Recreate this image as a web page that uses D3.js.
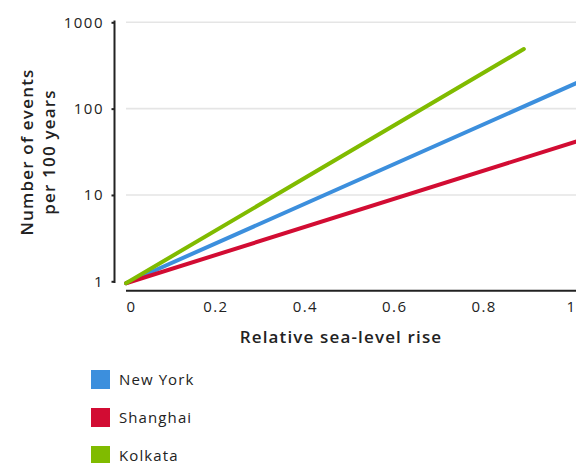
<!DOCTYPE html>
<html>
<head>
<meta charset="utf-8">
<script src="https://cdn.jsdelivr.net/npm/d3@7"></script>
<style>
  html, body { margin: 0; padding: 0; background: #fff; }
  svg { display: block; }
  text { font-family: "Open Sans", "Lato", sans-serif; fill: #222; }
</style>
</head>
<body>
<svg id="chart" width="576" height="463"></svg>
<script>
// ---- data ----
const cities = ["New York", "Shanghai", "Kolkata"];
const cityColors = ["#3c8fdd", "#d20c33", "#80bb00"];
const startX = [0, 0, 0];
const startY = [0.95, 0.95, 0.95];
const endX = [1.01, 1.01, 0.89];
const endY = [200, 42, 490];
const xTicks = [0, 0.2, 0.4, 0.6, 0.8, 1];
const xTickLabels = ["0", "0.2", "0.4", "0.6", "0.8", "1"];
const yTicks = [1, 10, 100, 1000];
const yTickLabels = ["1", "10", "100", "1000"];
const xTitle = "Relative sea-level rise";
const yTitleLines = ["Number of events", "per 100 years"];

// ---- layout ----
const svg = d3.select("#chart");
const x = d3.scaleLinear().domain([0, 1]).range([126, 573]);
const y = d3.scaleLog().domain([1, 1000]).range([281.3, 22.3]);

// grid lines
svg.append("g").selectAll("line")
  .data(yTicks.filter(d => d > 1))
  .join("line")
  .attr("x1", 126).attr("x2", 576)
  .attr("y1", d => y(d)).attr("y2", d => y(d))
  .attr("stroke", "#e5e5e5").attr("stroke-width", 1.6);

// y axis
const yAxis = svg.append("g").attr("transform", "translate(114.5,0)")
  .call(d3.axisLeft(y).tickValues(yTicks).tickFormat((d, i) => yTickLabels[i]).tickSize(3).tickPadding(9));
yAxis.select(".domain").attr("d", `M0,${20.5}V${283}`).attr("stroke", "#222").attr("stroke-width", 2);
yAxis.selectAll(".tick line").attr("stroke", "#222").attr("stroke-width", 2);
yAxis.selectAll(".tick text").attr("font-size", 15).attr("font-weight", 500)
  .attr("font-family", "'Open Sans', sans-serif").attr("fill", "#222")
  .attr("letter-spacing", 1.5).attr("dx", 1.5);

// x axis
const xAxis = svg.append("g").attr("transform", "translate(0,290.7)")
  .call(d3.axisBottom(x).tickValues(xTicks).tickFormat((d, i) => xTickLabels[i]).tickSize(0).tickPadding(11));
xAxis.select(".domain").attr("d", "M126,0H576").attr("stroke", "#222").attr("stroke-width", 2);
xAxis.selectAll(".tick text").attr("font-size", 15).attr("font-weight", 400)
  .attr("font-family", "'Open Sans', sans-serif").attr("fill", "#222")
  .attr("letter-spacing", 1.4)
  .attr("text-anchor", (d, i) => i === 0 ? "start" : "middle")
  .attr("dx", (d, i) => i === xTicks.length - 1 ? -2 : 0);

// axis titles
svg.append("text").attr("x", 341).attr("y", 343)
  .attr("text-anchor", "middle").attr("font-size", 17).attr("font-weight", 600)
  .attr("letter-spacing", 1.15)
  .text(xTitle);
const yt = svg.append("text").attr("transform", "translate(0,152) rotate(-90)")
  .attr("text-anchor", "middle").attr("font-size", 17).attr("font-weight", 600)
  .attr("letter-spacing", 1.2);
yTitleLines.forEach((t, i) => {
  yt.append("tspan").attr("x", 0).attr("y", 33 + i * 22).text(t);
});

// lines
const line = d3.line().x(d => x(d[0])).y(d => y(d[1]));
svg.append("g").selectAll("path")
  .data(cities.map((c, i) => ({ c, color: cityColors[i], pts: [[startX[i], startY[i]], [endX[i], endY[i]]] })))
  .join("path")
  .attr("d", d => line(d.pts))
  .attr("fill", "none").attr("stroke", d => d.color)
  .attr("stroke-width", 4).attr("stroke-linecap", "round");

// legend
const lg = svg.append("g").selectAll("g")
  .data(cities).join("g")
  .attr("transform", (d, i) => `translate(91,${370 + i * 38})`);
lg.append("rect").attr("width", 19).attr("height", 19)
  .attr("fill", (d, i) => cityColors[i]);
lg.append("text").attr("x", 28).attr("y", 15).attr("font-size", 15).attr("font-weight", 500)
  .attr("letter-spacing", 1.1)
  .text(d => d);
</script>
</body>
</html>
